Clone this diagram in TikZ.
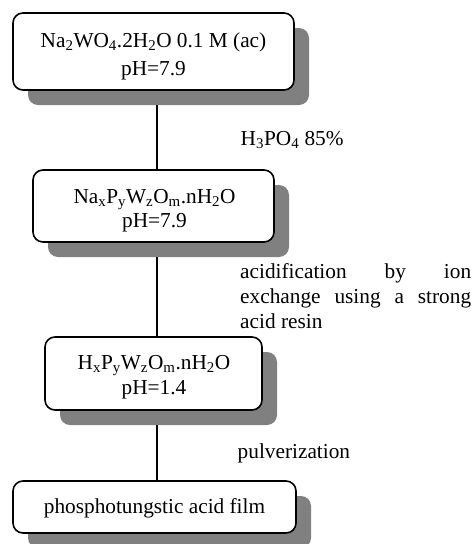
\documentclass[tikz,border=0pt]{standalone}
\usepackage{fontspec}
\setmainfont{Liberation Serif}
\usetikzlibrary{shadows}
\definecolor{shadowgray}{RGB}{128,128,128}
\pgfdeclarelayer{background}
\pgfsetlayers{background,main}
\begin{document}
\begin{tikzpicture}[x=1pt,y=-1pt,
  stepbox/.style={draw=black, line width=1.6pt, rounded corners=10pt, fill=white,
    minimum width=#1, inner sep=0pt,
    drop shadow={shadow xshift=15pt, shadow yshift=-15pt, fill=shadowgray, opacity=1}},
  boxtext/.style={inner sep=0pt, align=center, anchor=base, font=\fontsize{21.3}{#1}\selectfont},
  lbl/.style={inner sep=0pt, anchor=base west, align=left, font=\fontsize{21.3}{25}\selectfont},
  conn/.style={draw=black, line width=1.3pt}]
\useasboundingbox (0,0) rectangle (475,544);
\node[stepbox=281pt, minimum height=77pt] (b1) at (153.5,51.5) {};
\node[stepbox=241pt, minimum height=72pt] (b2) at (153.5,206) {};
\node[stepbox=217pt, minimum height=73pt] (b3) at (153.5,373.5) {};
\node[stepbox=283pt, minimum height=52pt] (b4) at (154.5,507) {};
\node[boxtext=28pt] (t1) at (153.5,75) {Na\textsubscript{2}WO\textsubscript{4}.2H\textsubscript{2}O 0.1 M (ac)\\pH=7.9};
\node[boxtext=23.5pt] (t2) at (154.5,227) {Na\textsubscript{x}P\textsubscript{y}W\textsubscript{z}O\textsubscript{m}.nH\textsubscript{2}O\\pH=7.9};
\node[boxtext=25pt] (t3) at (154,394) {H\textsubscript{x}P\textsubscript{y}W\textsubscript{z}O\textsubscript{m}.nH\textsubscript{2}O\\pH=1.4};
\node[boxtext=25pt] (t4) at (154.5,513) {phosphotungstic acid film};
\coordinate (xline) at (157,0);
\begin{pgfonlayer}{background}
\draw[conn] (b1.south -| xline) -- (b2.north -| xline);
\draw[conn] (b2.south -| xline) -- (b3.north -| xline);
\draw[conn] (b3.south -| xline) -- (b4.north -| xline);
\end{pgfonlayer}
\node[lbl] (l1) at (240.5,145) {H\textsubscript{3}PO\textsubscript{4} 85\%};
\node[lbl] (l2) at (240,328) {\makebox[231pt][s]{acidification by ion}\\\makebox[231pt][s]{exchange using a strong}\\acid resin};
\node[lbl] (l3) at (237.5,458) {pulverization};
\end{tikzpicture}
\end{document}
